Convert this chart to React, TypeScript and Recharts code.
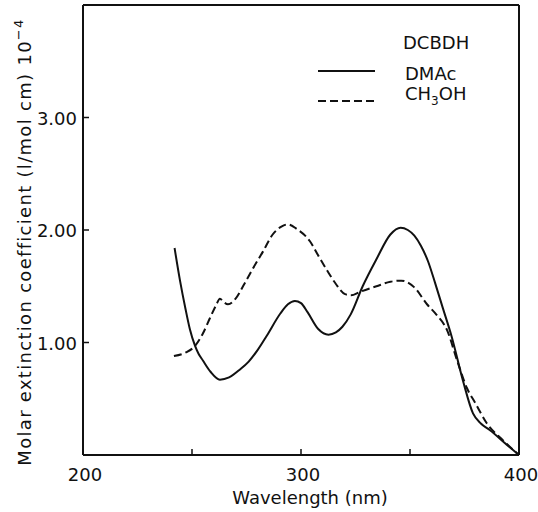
import React from 'react';
import { LineChart, Line, XAxis, YAxis, Legend, Label, ReferenceLine } from 'recharts';

const xTicks = [200, 250, 300, 350, 400];
const xTickLabels: Record<number, string> = { 200: '200', 300: '300', 400: '400' };
const yTicks = [0, 1, 2, 3, 4];
const yTickLabels: Record<number, string> = { 1: '1.00', 2: '2.00', 3: '3.00' };
const xMin = 200;
const xMax = 400;
const yMin = 0;
const yMax = 4;

const dmacWavelength = [242.0, 244.5, 247.0, 249.0, 251.4, 253.0, 255.0, 258.5, 262.8, 267.0, 272.0, 276.0, 280.0, 284.3, 290.6, 294.0, 297.2, 300.0, 303.0, 307.9, 312.6, 316.0, 319.0, 322.8, 328.3, 334.6, 341.0, 345.7, 349.0, 352.0, 355.0, 358.3, 361.5, 365.0, 369.0, 374.3, 378.9, 382.5, 386.7, 394.5, 400.0];
const dmacValues = [1.84, 1.55, 1.3, 1.12, 0.97, 0.9, 0.84, 0.74, 0.67, 0.69, 0.76, 0.83, 0.93, 1.06, 1.26, 1.34, 1.37, 1.35, 1.27, 1.12, 1.07, 1.09, 1.14, 1.25, 1.5, 1.74, 1.96, 2.02, 2.0, 1.95, 1.86, 1.72, 1.53, 1.31, 1.06, 0.66, 0.37, 0.28, 0.22, 0.09, 0.0];

const methanolWavelength = [241.7, 247.0, 251.4, 255.0, 258.3, 261.0, 262.8, 264.5, 266.5, 270.0, 274.0, 278.0, 282.6, 287.0, 291.0, 294.0, 298.0, 304.1, 308.0, 312.0, 316.0, 320.2, 323.0, 327.0, 334.6, 341.0, 346.0, 352.0, 357.8, 362.0, 367.0, 371.6, 376.0, 380.0, 385.3, 392.7, 400.0];
const methanolValues = [0.88, 0.91, 0.97, 1.08, 1.22, 1.33, 1.39, 1.36, 1.34, 1.39, 1.52, 1.66, 1.81, 1.96, 2.03, 2.05, 2.01, 1.9, 1.77, 1.64, 1.52, 1.43, 1.42, 1.45, 1.5, 1.54, 1.55, 1.49, 1.34, 1.25, 1.11, 0.84, 0.6, 0.46, 0.28, 0.13, 0.0];

const dmacData = dmacWavelength.map((x, i) => ({ x, y: dmacValues[i] }));
const methanolData = methanolWavelength.map((x, i) => ({ x, y: methanolValues[i] }));

const FONT = 'DejaVu Sans';
const INK = '#111';

const XTick = (props: any) => {
  const { x, y, payload } = props;
  const label = xTickLabels[payload.value] ?? '';
  return (
    <g>
      <line x1={x} y1={y} x2={x} y2={y - 6} stroke={INK} strokeWidth={1.5} />
      {label && (
        <text x={x + 2} y={y + 26} textAnchor="middle" fontFamily={FONT} fontSize={18} fill={INK}>
          {label}
        </text>
      )}
    </g>
  );
};

const YTick = (props: any) => {
  const { x, y, payload } = props;
  const label = yTickLabels[payload.value] ?? '';
  return (
    <g>
      <line x1={x} y1={y} x2={x + 6} y2={y} stroke={INK} strokeWidth={1.5} />
      {label && (
        <text x={x - 6} y={y + 7} textAnchor="end" fontFamily={FONT} fontSize={18} fill={INK}>
          {label}
        </text>
      )}
    </g>
  );
};

const renderLegend = () => (
  <svg width={200} height={100} style={{ display: 'block' }}>
    <text x={93} y={29} fontFamily={FONT} fontSize={18} fill={INK}>DCBDH</text>
    <line x1={8} y1={51} x2={65} y2={51} stroke={INK} strokeWidth={2} />
    <text x={95} y={60} fontFamily={FONT} fontSize={18} fill={INK}>DMAc</text>
    <line x1={8} y1={81} x2={65} y2={81} stroke={INK} strokeWidth={2} strokeDasharray="8 4" />
    <text x={95} y={80} fontFamily={FONT} fontSize={18} fill={INK}>
      CH<tspan fontSize={12} dy={5}>3</tspan><tspan dy={-5}>OH</tspan>
    </text>
  </svg>
);

const YTitle = () => (
  <text
    x={31}
    y={242}
    transform="rotate(-90, 31, 242)"
    textAnchor="middle"
    fontFamily={FONT}
    fontSize={18}
    letterSpacing={1.3}
    fill={INK}
  >
    Molar extinction coefficient (l/mol cm) 10<tspan fontSize={13} dy={-8}>−4</tspan>
  </text>
);

const XTitle = () => (
  <text x={310} y={504} textAnchor="middle" fontFamily={FONT} fontSize={18} fill={INK}>
    Wavelength (nm)
  </text>
);

export default function App() {
  return (
    <div style={{ position: 'absolute', left: 0, top: 0, background: '#fff' }}>
      <LineChart width={538} height={512} margin={{ top: 5, right: 19, left: 0, bottom: 0 }}>
        <XAxis
          type="number"
          dataKey="x"
          domain={[xMin, xMax]}
          ticks={xTicks}
          allowDataOverflow
          height={57}
          tickSize={0}
          tickMargin={0}
          tickLine={false}
          tick={<XTick />}
          axisLine={{ stroke: INK, strokeWidth: 2 }}
          interval={0}
        >
          <Label content={<XTitle />} />
        </XAxis>
        <YAxis
          type="number"
          domain={[yMin, yMax]}
          ticks={yTicks}
          allowDataOverflow
          width={83}
          tickSize={0}
          tickMargin={0}
          tickLine={false}
          tick={<YTick />}
          axisLine={{ stroke: INK, strokeWidth: 2 }}
          interval={0}
        >
          <Label content={<YTitle />} />
        </YAxis>
        <ReferenceLine y={yMax} stroke={INK} strokeWidth={2} ifOverflow="visible" />
        <ReferenceLine x={xMax} stroke={INK} strokeWidth={2} ifOverflow="visible" />
        <Legend
          layout="horizontal"
          verticalAlign="middle"
          align="center"
          content={renderLegend}
          wrapperStyle={{ position: 'absolute', left: 310, top: 20, width: 200, height: 100 }}
        />
        <Line
          data={dmacData}
          dataKey="y"
          name="DMAc"
          type="monotone"
          stroke={INK}
          strokeWidth={2}
          dot={false}
          isAnimationActive={false}
        />
        <Line
          data={methanolData}
          dataKey="y"
          name="CH3OH"
          type="monotone"
          stroke={INK}
          strokeWidth={2}
          strokeDasharray="8 4"
          dot={false}
          isAnimationActive={false}
        />
      </LineChart>
    </div>
  );
}
